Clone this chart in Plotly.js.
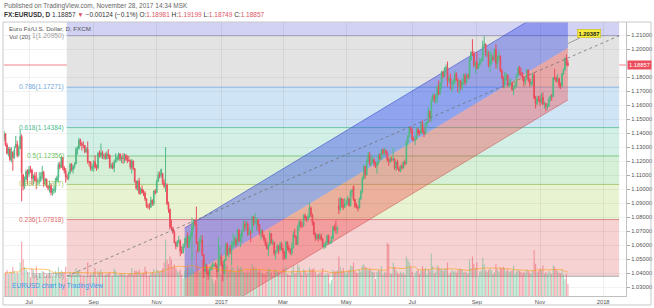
<!DOCTYPE html>
<html><head><meta charset="utf-8">
<script src="https://cdn.plot.ly/plotly-3.0.1.min.js"></script>
<style>html,body{margin:0;padding:0;background:#fff;}#chart{width:654px;height:308px;}</style>
</head><body><div id="chart"></div>
<script>
// ---------- DATA (daily EURUSD, first bar 2016-06-08, weekdays only) ----------
const startDate = '2016-06-08';
const opens = [
1.1355,1.1395,1.1315,
1.1255,1.1285,1.1210,1.1260,1.1225,
1.1300,1.1320,1.1240,1.1290,1.1375,
1.1100,1.1020,1.1070,1.1125,1.1105,
1.1140,1.1135,1.1075,1.1095,1.1060,
1.1050,1.1055,1.1060,1.1090,1.1120,
1.1035,1.1070,1.1020,1.1005,1.1025,
1.0975,1.0990,1.0995,1.1060,1.1080,
1.1175,1.1155,1.1225,1.1150,1.1130,
1.1085,1.1080,1.1115,1.1175,1.1135,
1.1160,1.1180,1.1285,1.1290,1.1350,
1.1325,1.1315,1.1310,1.1265,1.1285,
1.1195,1.1190,1.1145,1.1160,1.1195,
1.1155,1.1150,1.1255,1.1235,1.1260,
1.1235,1.1240,1.1220,1.1250,1.1240,
1.1155,1.1170,1.1150,1.1190,1.1210,
1.1225,1.1250,1.1215,1.1220,1.1218,
1.1240,1.1210,1.1205,1.1202,1.1155,
1.1200,1.1145,1.1055,1.1005,1.1055,
1.0970,1.1000,1.0975,1.0972,1.0930,
1.0880,1.0877,1.0870,1.0920,1.0895,
1.0985,1.0975,1.1055,1.1100,1.1095,
1.1110,1.1045,1.1020,1.1030,1.0895,
1.0855,1.0730,1.0720,1.0690,1.0615,
1.0590,1.0625,1.0630,1.0555,1.0545,
1.0590,1.0615,1.0650,1.0585,1.0660,
1.0665,1.0730,1.0765,1.0750,1.0615,
1.0560,1.0630,1.0635,1.0530,1.0410,
1.0450,1.0405,1.0385,1.0425,1.0440,
1.0455,1.0458,1.0450,1.0410,1.0495,
1.0515,1.0460,1.0405,1.0490,1.0605,
1.0530,1.0575,1.0555,1.0585,1.0615,
1.0640,1.0605,1.0705,1.0630,1.0660,
1.0700,1.0750,1.0730,1.0750,1.0675,
1.0695,1.0690,1.0800,1.0760,1.0765,
1.0780,1.0745,1.0685,1.0700,1.0665,
1.0640,1.0600,1.0575,1.0600,1.0680,
1.0615,1.0618,1.0540,1.0555,1.0590,
1.0560,1.0605,1.0575,1.0545,1.0505,
1.0620,1.0580,1.0565,1.0545,1.0580,
1.0670,1.0655,1.0605,1.0730,1.0765,
1.0740,1.0738,1.0810,1.0795,1.0785,
1.0800,1.0865,1.0815,1.0760,1.0675,
1.0650,1.0670,1.0645,1.0665,1.0640,
1.0590,1.0600,1.0615,1.0665,1.0615,
1.0618,1.0645,1.0730,1.0715,1.0712,
1.0880,1.0855,1.0930,1.0880,1.0870,
1.0895,1.0900,1.0930,1.0880,1.0985,
1.1020,1.0925,1.0875,1.0870,1.0865,
1.0930,1.0980,1.1075,1.1160,1.1100,
1.1205,1.1245,1.1180,1.1185,1.1210,
1.1185,1.1165,1.1185,1.1245,1.1215,
1.1280,1.1255,1.1275,1.1260,1.1210,
1.1195,1.1215,1.1208,1.1215,1.1150,
1.1195,1.1145,1.1130,1.1165,1.1150,
1.1195,1.1180,1.1335,1.1375,1.1440,
1.1425,1.1355,1.1348,1.1355,1.1425,
1.1400,1.1398,1.1465,1.1410,1.1395,
1.1470,1.1478,1.1555,1.1515,1.1630,
1.1665,1.1640,1.1648,1.1730,1.1680,
1.1755,1.1835,1.1805,1.1860,1.1868,
1.1775,1.1790,1.1755,1.1758,1.1765,
1.1820,1.1780,1.1735,1.1770,1.1725,
1.1760,1.1810,1.1760,1.1810,1.1800,
1.1925,1.1975,1.1965,1.1885,1.1905,
1.1860,1.1885,1.1915,1.1918,1.2025,
1.2035,1.1960,1.1965,1.1885,1.1920,
1.1940,1.1925,1.1995,1.1895,1.1940,
1.1950,1.1845,1.1795,1.1745,1.1785,
1.1815,1.1735,1.1745,1.1760,1.1710,
1.1730,1.1735,1.1810,1.1860,1.1830,
1.1820,1.1795,1.1765,1.1785,1.1850,
1.1785,1.1750,1.1760,1.1815,1.1650,
1.1610,1.1645,1.1642,1.1620,1.1655,
1.1605,1.1610,1.1590,1.1593,1.1645,
1.1665,1.1662,1.1795,1.1792,1.1770,
1.1790,1.1740,1.1738,1.1825,1.1855,
1.1935,1.18981
];
const highs = [
1.1416,1.1400,1.1330,
1.1298,1.1300,1.1298,1.1270,1.1305,
1.1380,1.1345,1.1310,1.1427,1.1390,
1.1110,1.1090,1.1140,1.1140,1.1165,
1.1165,1.1145,1.1105,1.1120,1.1120,
1.1080,1.1120,1.1120,1.1165,1.1130,
1.1080,1.1075,1.1030,1.1060,1.1040,
1.1005,1.1020,1.1080,1.1095,1.1190,
1.1195,1.1235,1.1230,1.1165,1.1150,
1.1105,1.1125,1.1185,1.1185,1.1170,
1.1190,1.1300,1.1305,1.1365,1.1360,
1.1335,1.1340,1.1315,1.1300,1.1340,
1.1200,1.1200,1.1175,1.1205,1.1240,
1.1175,1.1265,1.1275,1.1325,1.1275,
1.1255,1.1260,1.1270,1.1285,1.1245,
1.1185,1.1190,1.1210,1.1255,1.1240,
1.1260,1.1255,1.1235,1.1255,1.1255,
1.1250,1.1240,1.1235,1.1210,1.1215,
1.1205,1.1150,1.1060,1.1065,1.1080,
1.1010,1.1025,1.0995,1.0985,1.0935,
1.0895,1.0900,1.0945,1.0925,1.0990,
1.1000,1.1070,1.1125,1.1125,1.1145,
1.1115,1.1070,1.1300,1.1040,1.0910,
1.0860,1.0780,1.0730,1.0705,1.0625,
1.0635,1.0665,1.0640,1.0590,1.0610,
1.0650,1.0665,1.0690,1.0670,1.0690,
1.0795,1.0780,1.0785,1.0874,1.0625,
1.0650,1.0670,1.0670,1.0535,1.0475,
1.0465,1.0420,1.0440,1.0460,1.0475,
1.0470,1.0475,1.0465,1.0655,1.0590,
1.0535,1.0485,1.0500,1.0615,1.0620,
1.0585,1.0600,1.0630,1.0685,1.0665,
1.0655,1.0720,1.0715,1.0680,1.0710,
1.0775,1.0770,1.0775,1.0765,1.0725,
1.0705,1.0810,1.0805,1.0829,1.0795,
1.0785,1.0750,1.0715,1.0710,1.0675,
1.0650,1.0620,1.0610,1.0705,1.0685,
1.0640,1.0625,1.0565,1.0610,1.0600,
1.0625,1.0620,1.0580,1.0555,1.0630,
1.0625,1.0600,1.0575,1.0615,1.0700,
1.0715,1.0665,1.0745,1.0780,1.0775,
1.0765,1.0820,1.0825,1.0805,1.0820,
1.0906,1.0875,1.0825,1.0770,1.0690,
1.0680,1.0680,1.0685,1.0680,1.0650,
1.0615,1.0625,1.0675,1.0675,1.0630,
1.0665,1.0735,1.0745,1.0775,1.0735,
1.0935,1.0945,1.0935,1.0930,1.0935,
1.0925,1.0950,1.0935,1.0990,1.1000,
1.1025,1.0930,1.0900,1.0885,1.0940,
1.0995,1.1090,1.1175,1.1165,1.1210,
1.1265,1.1265,1.1235,1.1230,1.1220,
1.1195,1.1195,1.1255,1.1255,1.1285,
1.1290,1.1295,1.1285,1.1270,1.1225,
1.1230,1.1230,1.1295,1.1220,1.1200,
1.1210,1.1160,1.1170,1.1185,1.1200,
1.1210,1.1345,1.1385,1.1445,1.1445,
1.1430,1.1375,1.1385,1.1445,1.1435,
1.1420,1.1480,1.1490,1.1440,1.1475,
1.1485,1.1585,1.1560,1.1655,1.1685,
1.1680,1.1680,1.1740,1.1775,1.1765,
1.1845,1.1845,1.1870,1.1890,1.1910,
1.1810,1.1825,1.1780,1.1785,1.1845,
1.1835,1.1790,1.1780,1.1780,1.1785,
1.1825,1.1825,1.1825,1.1825,1.1940,
1.1985,1.2070,1.1985,1.1910,1.1980,
1.1895,1.1935,1.1935,1.2060,1.2092,
1.2040,1.1995,1.1985,1.1990,1.1975,
1.1960,1.2005,1.2035,1.1955,1.1985,
1.1955,1.1860,1.1805,1.1835,1.1830,
1.1815,1.1785,1.1790,1.1765,1.1740,
1.1765,1.1820,1.1875,1.1880,1.1870,
1.1835,1.1805,1.1790,1.1860,1.1855,
1.1790,1.1770,1.1830,1.1835,1.1665,
1.1665,1.1665,1.1670,1.1685,1.1690,
1.1625,1.1615,1.1610,1.1655,1.1670,
1.1680,1.1800,1.1860,1.1805,1.1820,
1.1795,1.1760,1.1830,1.1860,1.1940,
1.1961,1.19199
];
const lows = [
1.1345,1.1305,1.1245,
1.1232,1.1198,1.1190,1.1130,1.1215,
1.1290,1.1225,1.1230,1.1285,1.0912,
1.0990,1.1000,1.1060,1.1030,1.1085,
1.1115,1.1030,1.1030,1.1055,1.1000,
1.1025,1.1035,1.1050,1.1070,1.1015,
1.1030,1.1010,1.0990,1.0975,1.0955,
1.0952,1.0965,1.0975,1.1050,1.1045,
1.1140,1.1150,1.1135,1.1110,1.1045,
1.1065,1.1065,1.1105,1.1125,1.1110,
1.1145,1.1175,1.1245,1.1280,1.1305,
1.1275,1.1290,1.1255,1.1260,1.1180,
1.1160,1.1130,1.1125,1.1125,1.1145,
1.1130,1.1140,1.1225,1.1220,1.1215,
1.1210,1.1210,1.1210,1.1215,1.1145,
1.1145,1.1140,1.1120,1.1185,1.1195,
1.1205,1.1200,1.1185,1.1180,1.1185,
1.1200,1.1185,1.1195,1.1140,1.1110,
1.1135,1.1045,1.0995,1.0985,1.0960,
1.0960,1.0965,1.0950,1.0915,1.0865,
1.0860,1.0852,1.0865,1.0880,1.0880,
1.0960,1.0970,1.1050,1.1075,1.1080,
1.1030,1.1005,1.0980,1.0885,1.0830,
1.0710,1.0705,1.0680,1.0610,1.0570,
1.0585,1.0610,1.0520,1.0535,1.0540,
1.0575,1.0605,1.0580,1.0580,1.0625,
1.0505,1.0710,1.0735,1.0605,1.0545,
1.0550,1.0610,1.0520,1.0365,1.0405,
1.0390,1.0352,1.0370,1.0415,1.0425,
1.0445,1.0440,1.0370,1.0405,1.0450,
1.0445,1.0340,1.0390,1.0485,1.0525,
1.0510,1.0535,1.0455,1.0580,1.0595,
1.0585,1.0600,1.0620,1.0585,1.0620,
1.0695,1.0700,1.0705,1.0665,1.0675,
1.0620,1.0685,1.0735,1.0745,1.0705,
1.0700,1.0670,1.0640,1.0655,1.0625,
1.0590,1.0565,1.0520,1.0595,1.0610,
1.0600,1.0525,1.0495,1.0545,1.0535,
1.0555,1.0565,1.0495,1.0495,1.0500,
1.0560,1.0545,1.0530,1.0525,1.0575,
1.0650,1.0600,1.0600,1.0700,1.0725,
1.0720,1.0730,1.0775,1.0765,1.0770,
1.0795,1.0800,1.0740,1.0670,1.0630,
1.0635,1.0625,1.0640,1.0630,1.0585,
1.0570,1.0580,1.0600,1.0605,1.0605,
1.0610,1.0640,1.0700,1.0680,1.0680,
1.0820,1.0840,1.0865,1.0850,1.0865,
1.0880,1.0885,1.0875,1.0875,1.0950,
1.0915,1.0865,1.0860,1.0840,1.0860,
1.0920,1.0970,1.1065,1.1075,1.1095,
1.1190,1.1165,1.1165,1.1185,1.1160,
1.1150,1.1110,1.1175,1.1205,1.1210,
1.1245,1.1240,1.1245,1.1195,1.1165,
1.1185,1.1195,1.1200,1.1135,1.1130,
1.1140,1.1125,1.1120,1.1140,1.1145,
1.1165,1.1175,1.1310,1.1365,1.1395,
1.1345,1.1340,1.1315,1.1350,1.1380,
1.1385,1.1390,1.1400,1.1370,1.1385,
1.1445,1.1470,1.1480,1.1480,1.1625,
1.1615,1.1610,1.1615,1.1670,1.1675,
1.1715,1.1790,1.1795,1.1825,1.1730,
1.1760,1.1710,1.1690,1.1715,1.1745,
1.1770,1.1690,1.1680,1.1705,1.1705,
1.1745,1.1740,1.1755,1.1785,1.1785,
1.1915,1.1950,1.1870,1.1825,1.1855,
1.1855,1.1875,1.1895,1.1915,1.2010,
1.1945,1.1940,1.1870,1.1835,1.1890,
1.1910,1.1915,1.1860,1.1860,1.1910,
1.1835,1.1785,1.1720,1.1720,1.1775,
1.1730,1.1725,1.1735,1.1700,1.1670,
1.1715,1.1730,1.1805,1.1815,1.1805,
1.1775,1.1730,1.1740,1.1780,1.1765,
1.1730,1.1730,1.1740,1.1640,1.1575,
1.1600,1.1625,1.1595,1.1610,1.1600,
1.1575,1.1555,1.1565,1.1585,1.1625,
1.1630,1.1655,1.1780,1.1760,1.1765,
1.1720,1.1715,1.1725,1.1815,1.1845,
1.1880,1.18749
];
const closes = [
1.1395,1.1315,1.1255,
1.1285,1.1210,1.1260,1.1225,1.1280,
1.1320,1.1240,1.1290,1.1375,1.1115,
1.1020,1.1070,1.1125,1.1105,1.1140,
1.1135,1.1075,1.1095,1.1060,1.1050,
1.1055,1.1060,1.1090,1.1120,1.1035,
1.1070,1.1020,1.1005,1.1025,1.0975,
1.0990,1.0995,1.1060,1.1080,1.1175,
1.1155,1.1225,1.1150,1.1130,1.1085,
1.1080,1.1115,1.1175,1.1135,1.1160,
1.1180,1.1285,1.1290,1.1350,1.1325,
1.1315,1.1310,1.1265,1.1285,1.1195,
1.1190,1.1145,1.1160,1.1195,1.1155,
1.1150,1.1255,1.1235,1.1260,1.1235,
1.1240,1.1220,1.1250,1.1240,1.1155,
1.1170,1.1150,1.1190,1.1210,1.1225,
1.1250,1.1215,1.1220,1.1218,1.1240,
1.1210,1.1205,1.1202,1.1155,1.1200,
1.1145,1.1055,1.1005,1.1055,1.0970,
1.1000,1.0975,1.0972,1.0930,1.0880,
1.0877,1.0870,1.0920,1.0895,1.0985,
1.0975,1.1055,1.1100,1.1095,1.1140,
1.1045,1.1020,1.1030,1.0895,1.0855,
1.0730,1.0720,1.0690,1.0615,1.0590,
1.0625,1.0630,1.0555,1.0545,1.0590,
1.0615,1.0650,1.0585,1.0660,1.0665,
1.0730,1.0765,1.0750,1.0615,1.0560,
1.0630,1.0635,1.0530,1.0410,1.0450,
1.0405,1.0385,1.0425,1.0440,1.0455,
1.0458,1.0450,1.0410,1.0495,1.0515,
1.0460,1.0405,1.0490,1.0605,1.0530,
1.0575,1.0555,1.0585,1.0615,1.0640,
1.0605,1.0705,1.0630,1.0660,1.0700,
1.0750,1.0730,1.0750,1.0675,1.0695,
1.0690,1.0800,1.0760,1.0765,1.0780,
1.0745,1.0685,1.0700,1.0665,1.0640,
1.0600,1.0575,1.0600,1.0680,1.0615,
1.0618,1.0540,1.0555,1.0590,1.0560,
1.0605,1.0575,1.0545,1.0505,1.0620,
1.0580,1.0565,1.0545,1.0580,1.0670,
1.0655,1.0605,1.0730,1.0765,1.0740,
1.0738,1.0810,1.0795,1.0785,1.0800,
1.0865,1.0815,1.0760,1.0675,1.0650,
1.0670,1.0645,1.0665,1.0640,1.0590,
1.0600,1.0615,1.0665,1.0615,1.0618,
1.0645,1.0730,1.0715,1.0712,1.0725,
1.0855,1.0930,1.0880,1.0870,1.0895,
1.0900,1.0930,1.0880,1.0985,1.0995,
1.0925,1.0875,1.0870,1.0865,1.0930,
1.0980,1.1075,1.1160,1.1100,1.1205,
1.1245,1.1180,1.1185,1.1210,1.1185,
1.1165,1.1185,1.1245,1.1215,1.1280,
1.1255,1.1275,1.1260,1.1210,1.1195,
1.1215,1.1208,1.1215,1.1150,1.1195,
1.1145,1.1130,1.1165,1.1150,1.1195,
1.1180,1.1335,1.1375,1.1440,1.1425,
1.1355,1.1348,1.1355,1.1425,1.1400,
1.1398,1.1465,1.1410,1.1395,1.1470,
1.1478,1.1555,1.1515,1.1630,1.1665,
1.1640,1.1648,1.1730,1.1680,1.1755,
1.1835,1.1805,1.1860,1.1868,1.1775,
1.1790,1.1755,1.1758,1.1765,1.1820,
1.1780,1.1735,1.1770,1.1725,1.1760,
1.1810,1.1760,1.1810,1.1800,1.1925,
1.1975,1.1965,1.1885,1.1905,1.1860,
1.1885,1.1915,1.1918,1.2025,1.2035,
1.1960,1.1965,1.1885,1.1920,1.1940,
1.1925,1.1995,1.1895,1.1940,1.1950,
1.1845,1.1795,1.1745,1.1785,1.1815,
1.1735,1.1745,1.1760,1.1710,1.1730,
1.1735,1.1810,1.1860,1.1830,1.1820,
1.1795,1.1765,1.1785,1.1850,1.1785,
1.1750,1.1760,1.1815,1.1650,1.1610,
1.1645,1.1642,1.1620,1.1655,1.1605,
1.1610,1.1590,1.1593,1.1645,1.1665,
1.1662,1.1795,1.1792,1.1770,1.1790,
1.1740,1.1738,1.1825,1.1855,1.1935,
1.18981,1.18857
];
const volumes = [
70,78,85,
72,80,76,95,82,
75,78,72,110,178,
120,95,88,80,78,
62,92,85,70,98,
68,72,75,82,80,
66,70,72,85,74,
64,68,82,72,95,
76,84,80,78,96,
60,66,80,70,74,
68,92,82,80,70,
62,68,64,66,110,
66,72,70,78,92,
62,82,78,88,76,
66,70,72,74,78,
64,66,90,82,70,
68,72,74,70,72,
66,68,72,74,92,
70,84,82,80,86,
72,74,76,96,82,
66,68,74,78,88,
72,86,84,78,84,
90,110,185,120,105,
130,118,96,104,92,
82,78,86,70,58,
84,90,96,92,88,
140,86,80,150,98,
80,84,118,124,86,
80,90,78,64,56,
40,52,66,92,74,
70,100,96,104,98,
82,86,98,94,80,
76,100,90,96,92,
80,78,74,82,76,
88,104,96,92,90,
80,86,76,74,72,
70,80,90,88,78,
62,82,88,80,78,
72,76,90,84,96,
72,70,68,84,98,
74,76,104,96,78,
70,88,84,72,76,
94,86,88,92,80,
70,72,76,78,92,
68,70,74,72,40,
52,86,80,82,84,
130,96,82,92,80,
72,82,86,100,96,
110,82,76,74,88,
80,100,104,96,92,
86,90,84,80,78,
56,80,86,82,98,
70,80,76,175,170,
74,72,110,96,84,
76,72,80,74,78,
70,130,120,110,96,
80,62,76,82,86,
72,84,98,86,92,
70,88,84,140,98,
74,80,100,96,86,
92,82,90,88,110,
70,76,86,80,82,
76,84,88,90,86,
78,80,76,74,120,
92,130,106,92,110,
62,80,84,126,104,
84,80,86,90,84,
72,78,104,88,80,
94,92,96,90,82,
88,80,82,84,100,
72,80,86,82,80,
74,80,76,86,82,
76,72,84,150,106,
80,82,90,86,100,
74,78,72,82,76,
72,100,96,86,82,
76,74,86,70,56,
72,40
];
// Fibonacci retracement (ratio / price), drawn between two bar anchors
const fibRatios = [0, 0.236, 0.382, 0.5, 0.618, 0.786, 1];
const fibPrices = [1.03770, 1.07818, 1.10327, 1.12356, 1.14384, 1.17271, 1.20950];
const fibExtPrice = 1.31567;          // 1.618 level (off the top)
const fibBars = [25.7, 401.9];        // anchor bar indexes
// Regression trend channel (bar index, upper / middle / lower price)
const channelBars = [106, 367];
const channelUpper = [1.0721, 1.2371];
const channelMid = [1.0357, 1.2007];
const channelLower = [0.9986, 1.1636];
const lastPrice = 1.18857;
const calloutPrice = 1.20387;
const calloutBar = 367;
const priceTicks = [1.03,1.04,1.05,1.06,1.07,1.08,1.09,1.10,1.11,1.12,1.13,1.14,1.15,1.16,1.17,1.18,1.20,1.21];
const tickMonths = [[2016,6],[2016,8],[2016,10],[2017,0],[2017,2],[2017,4],[2017,6],[2017,8],[2017,10],[2018,0]];
const tickLabels = ['Jul','Sep','Nov','2017','Mar','May','Jul','Sep','Nov','2018'];

// ---------- STYLE ----------
const UP = '#53b987', DN = '#eb4d5c';
const bandColors = ['#f6d2d3','#e8f3d2','#d5f0d6','#d3f0e6','#cfe4f5','#e3e3e3'];
const topBandColor = '#d2d2f4';
const levelLineColors = ['#a8a8a8','#d9898c','#a9cc78','#7fc88a','#6cc6a6','#84b6e0','#a0a0b8'];
const levelLabelColors = ['#9a9a9a','#e06c6c','#a8c65a','#6cbf5e','#4dbb8e','#6fa8dc','#9a9a9a'];
const FONT = 'Liberation Sans, Arial, sans-serif';

// ---------- BUILD ----------
const FIRST = -17; // index of first bar relative to 2016-07-01
const dates = [];
{
  let t = Date.UTC(2016,5,8);
  const end = Date.UTC(2018,1,15);
  while (t < end) {
    const d = new Date(t);
    const wd = d.getUTCDay();
    if (wd !== 0 && wd !== 6) dates.push(d);
    t += 86400000;
  }
}
const xs = closes.map((_, i) => i + FIRST);
const tickvals = tickMonths.map(([y, m]) => {
  const k = dates.findIndex(d => d.getUTCFullYear() === y && d.getUTCMonth() === m);
  return k + FIRST;
});

const volColors = closes.map((c, i) => c >= opens[i] ? 'rgba(83,185,135,0.5)' : 'rgba(235,77,92,0.5)');
const volMA = volumes.map((v, i) => {
  const s = Math.max(0, i - 19);
  const w = volumes.slice(s, i + 1);
  return w.reduce((a, b) => a + b, 0) / w.length;
});

const traces = [
  {
    type: 'candlestick', x: xs, open: opens, high: highs, low: lows, close: closes,
    increasing: {line: {color: UP, width: 1}, fillcolor: UP},
    decreasing: {line: {color: DN, width: 1}, fillcolor: DN},
    whiskerwidth: 0, hoverinfo: 'skip', showlegend: false
  },
  {
    type: 'bar', x: xs, y: volumes, yaxis: 'y2', width: 0.75,
    marker: {color: volColors, line: {width: 0}}, hoverinfo: 'skip', showlegend: false
  },
  {
    type: 'scatter', mode: 'lines', x: xs, y: volMA, yaxis: 'y2',
    line: {color: 'rgba(255,152,0,0.55)', width: 1}, hoverinfo: 'skip', showlegend: false
  }
];

const shapes = [];
shapes.push({type: 'rect', xref: 'x', yref: 'y', x0: fibBars[0], x1: fibBars[1],
  y0: fibPrices[6], y1: fibExtPrice, fillcolor: topBandColor, line: {width: 0}, layer: 'below'});
for (let i = 0; i < 6; i++) {
  shapes.push({type: 'rect', xref: 'x', yref: 'y', x0: fibBars[0], x1: fibBars[1],
    y0: fibPrices[i], y1: fibPrices[i + 1], fillcolor: bandColors[i], line: {width: 0}, layer: 'below'});
}
for (let i = 0; i < 7; i++) {
  shapes.push({type: 'line', xref: 'x', yref: 'y', x0: fibBars[0], x1: fibBars[1],
    y0: fibPrices[i], y1: fibPrices[i], line: {color: levelLineColors[i], width: 1}, layer: 'below'});
}
shapes.push({type: 'line', xref: 'paper', yref: 'y', x0: 0, x1: 1, y0: lastPrice, y1: lastPrice,
  line: {color: 'rgba(235,77,92,0.7)', width: 1}, layer: 'below'});
const [b0, b1] = channelBars;
shapes.push({type: 'path', xref: 'x', yref: 'y', layer: 'below',
  path: `M ${b0},${channelUpper[0]} L ${b1},${channelUpper[1]} L ${b1},${channelMid[1]} L ${b0},${channelMid[0]} Z`,
  fillcolor: 'rgba(55,75,232,0.42)', line: {width: 0}});
shapes.push({type: 'path', xref: 'x', yref: 'y', layer: 'below',
  path: `M ${b0},${channelMid[0]} L ${b1},${channelMid[1]} L ${b1},${channelLower[1]} L ${b0},${channelLower[0]} Z`,
  fillcolor: 'rgba(238,70,70,0.38)', line: {width: 0}});
shapes.push({type: 'line', xref: 'x', yref: 'y', x0: b0, x1: b1, y0: channelUpper[0], y1: channelUpper[1],
  line: {color: 'rgba(50,70,200,0.55)', width: 1}, layer: 'below'});
shapes.push({type: 'line', xref: 'x', yref: 'y', x0: b0, x1: b1, y0: channelLower[0], y1: channelLower[1],
  line: {color: 'rgba(200,60,60,0.45)', width: 1}, layer: 'below'});
shapes.push({type: 'line', xref: 'x', yref: 'y', x0: fibBars[0], x1: fibBars[1], y0: fibPrices[0], y1: fibPrices[6],
  line: {color: 'rgba(110,110,110,0.75)', width: 1, dash: 'dot'}, layer: 'above'});
shapes.push({type: 'rect', xref: 'paper', yref: 'paper', x0: -0.0016, x1: 1.0402, y0: -0.0328, y1: 1,
  line: {color: '#c8c8c8', width: 1}, fillcolor: 'rgba(0,0,0,0)', layer: 'above'});

const annotations = [];
annotations.push({xref: 'paper', yref: 'paper', x: -0.0032, y: 1.0584, xanchor: 'left', yanchor: 'middle', showarrow: false,
  text: 'Published on TradingView.com, November 28, 2017 14:34 MSK', font: {family: FONT, size: 6.5, color: '#666'}});
const R = "<span style='color:#e0545f'>";
annotations.push({xref: 'paper', yref: 'paper', x: -0.0032, y: 1.0255, xanchor: 'left', yanchor: 'middle', showarrow: false,
  text: `<b>FX:EURUSD, D</b> 1.18857 ${R}▼</span> −0.00124 (−0.1%) O:${R}1.18981</span> H:${R}1.19199</span> L:${R}1.18749</span> C:${R}1.18857</span>`,
  font: {family: FONT, size: 6.5, color: '#333'}});
annotations.push({xref: 'paper', yref: 'paper', x: 0.0048, y: 0.9745, xanchor: 'left', yanchor: 'middle', showarrow: false,
  text: 'Euro Fx/U.S. Dollar, D, FXCM', font: {family: FONT, size: 6.2, color: '#555'}});
annotations.push({xref: 'paper', yref: 'paper', x: 0.0048, y: 0.947, xanchor: 'left', yanchor: 'middle', showarrow: false,
  text: 'Vol (20)', font: {family: FONT, size: 6.2, color: '#555'}});
for (let i = 0; i < 7; i++) {
  annotations.push({xref: 'x', yref: 'y', x: fibBars[0], y: fibPrices[i], xanchor: 'right', yanchor: 'middle', xshift: -1,
    showarrow: false, text: `${fibRatios[i]}(${fibPrices[i].toFixed(5)})`,
    font: {family: FONT, size: 6.6, color: levelLabelColors[i]}});
}
annotations.push({xref: 'paper', yref: 'paper', x: 0.0096, y: 0.0365, xanchor: 'left', yanchor: 'middle', showarrow: false,
  text: 'EURUSD chart by TradingView', font: {family: FONT, size: 6.6, color: '#3d9be9'}});
annotations.push({xref: 'paper', yref: 'y', x: 1.0016, y: lastPrice, xanchor: 'left', yanchor: 'middle', showarrow: false,
  text: lastPrice.toFixed(5), bgcolor: DN, borderpad: 1, font: {family: FONT, size: 5.8, color: '#fff'}});
annotations.push({xref: 'x', yref: 'y', x: calloutBar, y: calloutPrice, ax: 21, ay: -10, showarrow: true,
  arrowhead: 0, arrowwidth: 0.8, arrowcolor: '#888', text: '<b>' + calloutPrice.toFixed(5) + '</b>',
  bgcolor: '#f5ec3c', bordercolor: '#bfb020', borderwidth: 0.5, borderpad: 1,
  font: {family: FONT, size: 5.8, color: '#222'}});

const layout = {
  width: 654, height: 308,
  margin: {l: 4, r: 28, t: 22, b: 12, pad: 0},
  paper_bgcolor: '#fff', plot_bgcolor: '#fff',
  showlegend: false, hovermode: false, dragmode: false,
  xaxis: {
    type: 'linear', range: [-17.025, 406.57], autorange: false, fixedrange: true,
    rangeslider: {visible: false},
    tickmode: 'array', tickvals: tickvals, ticktext: tickLabels,
    showgrid: true, gridcolor: 'rgba(0,0,0,0.06)', gridwidth: 1,
    showline: true, linecolor: '#c0c0c0', linewidth: 1, ticks: '', zeroline: false,
    tickfont: {family: FONT, size: 5.8, color: '#555'}, automargin: false
  },
  yaxis: {
    type: 'linear', side: 'right', range: [1.023571, 1.219286], autorange: false, fixedrange: true,
    tickmode: 'array', tickvals: priceTicks, ticktext: priceTicks.map(v => v.toFixed(5)),
    showgrid: true, gridcolor: 'rgba(0,0,0,0.05)', gridwidth: 1,
    showline: true, linecolor: '#c0c0c0', linewidth: 1,
    ticks: 'outside', ticklen: 3, tickcolor: '#aaa', zeroline: false,
    tickfont: {family: FONT, size: 5.8, color: '#555'}, automargin: false
  },
  yaxis2: {
    overlaying: 'y', side: 'left', range: [0, 900], autorange: false, visible: false,
    showgrid: false, zeroline: false, fixedrange: true
  },
  shapes: shapes,
  annotations: annotations
};

Plotly.newPlot('chart', traces, layout, {displayModeBar: false, staticPlot: true});
</script>
</body></html>
